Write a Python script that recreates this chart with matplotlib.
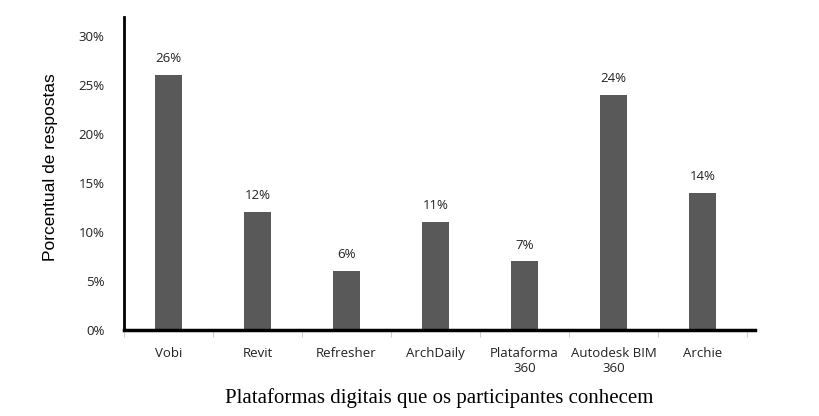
import matplotlib
matplotlib.use("Agg")
import matplotlib.pyplot as plt
import numpy as np

categories = ["Vobi", "Revit", "Refresher", "ArchDaily", "Plataforma\n360", "Autodesk BIM\n360", "Archie"]
values = [26, 12, 6, 11, 7, 24, 14]
yticks = [0, 5, 10, 15, 20, 25, 30]

fig = plt.figure(figsize=(8.19, 4.16), dpi=100)
ax = fig.add_axes([0.1514, 0.2067, 0.7705, 0.7523])

x = np.arange(len(categories))
ax.bar(x, values, width=0.31, color="#595959")
for xi, v in zip(x, values):
    ax.text(xi, v + 1.0, f"{v}%", ha="center", va="bottom", fontsize=9.5,
            family="Open Sans", color="#222222")

ax.set_xlim(-0.5, 6.59)
ax.set_ylim(0, 31.9)
ax.set_yticks(yticks)
ax.set_yticklabels([f"{t}%" for t in yticks], family="Open Sans", fontsize=9.5)
ax.tick_params(axis="y", length=0, pad=14, labelcolor="#222222")

# category labels, with boundary tick marks like a spreadsheet chart
ax.set_xticks(x)
ax.set_xticklabels(categories, family="Open Sans", fontsize=9.5, linespacing=1.25)
ax.tick_params(axis="x", length=0, pad=12, labelcolor="#222222")
ax.set_xticks(np.arange(-0.5, 7.0, 1.0), minor=True)
ax.tick_params(axis="x", which="minor", length=5, color="#d0d0d0", width=0.8)

for s in ["top", "right"]:
    ax.spines[s].set_visible(False)
ax.spines["left"].set_linewidth(2)
ax.spines["bottom"].set_linewidth(2.5)

ax.set_ylabel("Porcentual de respostas", family="Liberation Sans", fontsize=12.5, labelpad=18)
ax.yaxis.set_label_coords(-0.105, 0.52)
ax.set_xlabel("Plataformas digitais que os participantes conhecem", family="Liberation Serif",
              fontsize=15, labelpad=9)

plt.savefig("out.png", dpi=100)
